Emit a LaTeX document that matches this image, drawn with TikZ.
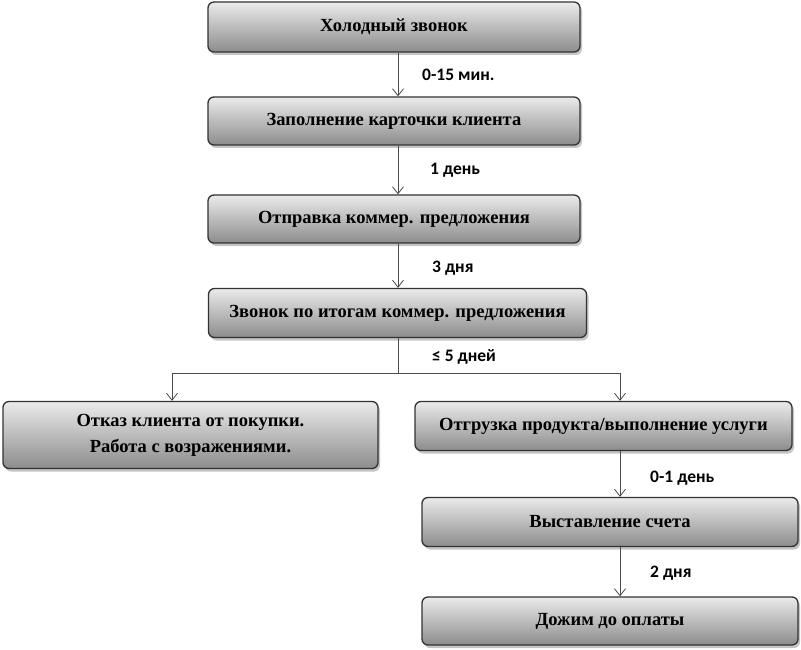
\documentclass[tikz,border=0pt]{standalone}
\usepackage{fontspec}
\setmainfont{Liberation Serif}
\newfontfamily\labfont{Carlito}
\usetikzlibrary{arrows.meta,shadows}
\begin{document}
\begin{tikzpicture}[x=1pt,y=-1pt,
  box/.style={draw=black!80, line width=1.3pt, rounded corners=6pt,
    top color=black!8, bottom color=black!45,
    drop shadow={opacity=0.45, shadow xshift=2pt, shadow yshift=-3pt},
    font=\fontsize{18.5}{23}\selectfont\bfseries, align=center,
    inner sep=0pt, anchor=center},
  arr/.style={draw=black!70, line width=0.8pt, -{Straight Barb[length=7pt,width=11pt,line width=0.8pt]}},
  ln/.style={draw=black!70, line width=0.8pt},
  lab/.style={font=\labfont\fontsize{17.5}{20}\selectfont\bfseries, anchor=west, inner sep=0pt}]
\useasboundingbox (0,0) rectangle (801,650);
\fill[white] (0,0) rectangle (801,650);
\node[box, minimum width=372pt, minimum height=50pt] (b1) at (394,27) {Холодный звонок};
\node[box, minimum width=372pt, minimum height=48pt] (b2) at (394,121) {Заполнение карточки клиента};
\node[box, minimum width=372pt, minimum height=48pt] (b3) at (394,219) {Отправка коммер. предложения};
\node[box, minimum width=378pt, minimum height=49pt] (b4) at (397.5,313) {Звонок по итогам коммер. предложения};
\node[box, minimum width=375pt, minimum height=67pt] (L) at (190.5,435) {Отказ клиента от покупки.\\[3pt] Работа с возражениями.};
\node[box, minimum width=377pt, minimum height=49pt] (R) at (603.5,426) {Отгрузка продукта/выполнение услуги};
\node[box, minimum width=376pt, minimum height=49pt] (R2) at (610,522) {Выставление счета};
\node[box, minimum width=376pt, minimum height=48pt] (R3) at (610,621) {Дожим до оплаты};
\coordinate (cx) at (398,0);
\coordinate (jl) at (172,373);
\coordinate (jr) at (620,373);
\draw[arr] (cx |- b1.south) -- (cx |- b2.north);
\draw[arr] (cx |- b2.south) -- (cx |- b3.north);
\draw[arr] (cx |- b3.south) -- (cx |- b4.north);
\draw[ln] (cx |- b4.south) -- (cx |- jl);
\draw[ln] (jl) -- (jr);
\draw[arr] (jl) -- (jl |- L.north);
\draw[arr] (jr) -- (jr |- R.north);
\draw[arr] (jr |- R.south) -- (jr |- R2.north);
\draw[arr] (jr |- R2.south) -- (jr |- R3.north);
\node[lab] (t1) at (422,75) {0-15 мин.};
\node[lab] (t2) at (430,170) {1 день};
\node[lab] (t3) at (432,268) {3 дня};
\node[lab] (t4) at (432,357) {≤ 5 дней};
\node[lab] (t5) at (650,478) {0-1 день};
\node[lab] (t6) at (650,573) {2 дня};
\end{tikzpicture}
\end{document}
